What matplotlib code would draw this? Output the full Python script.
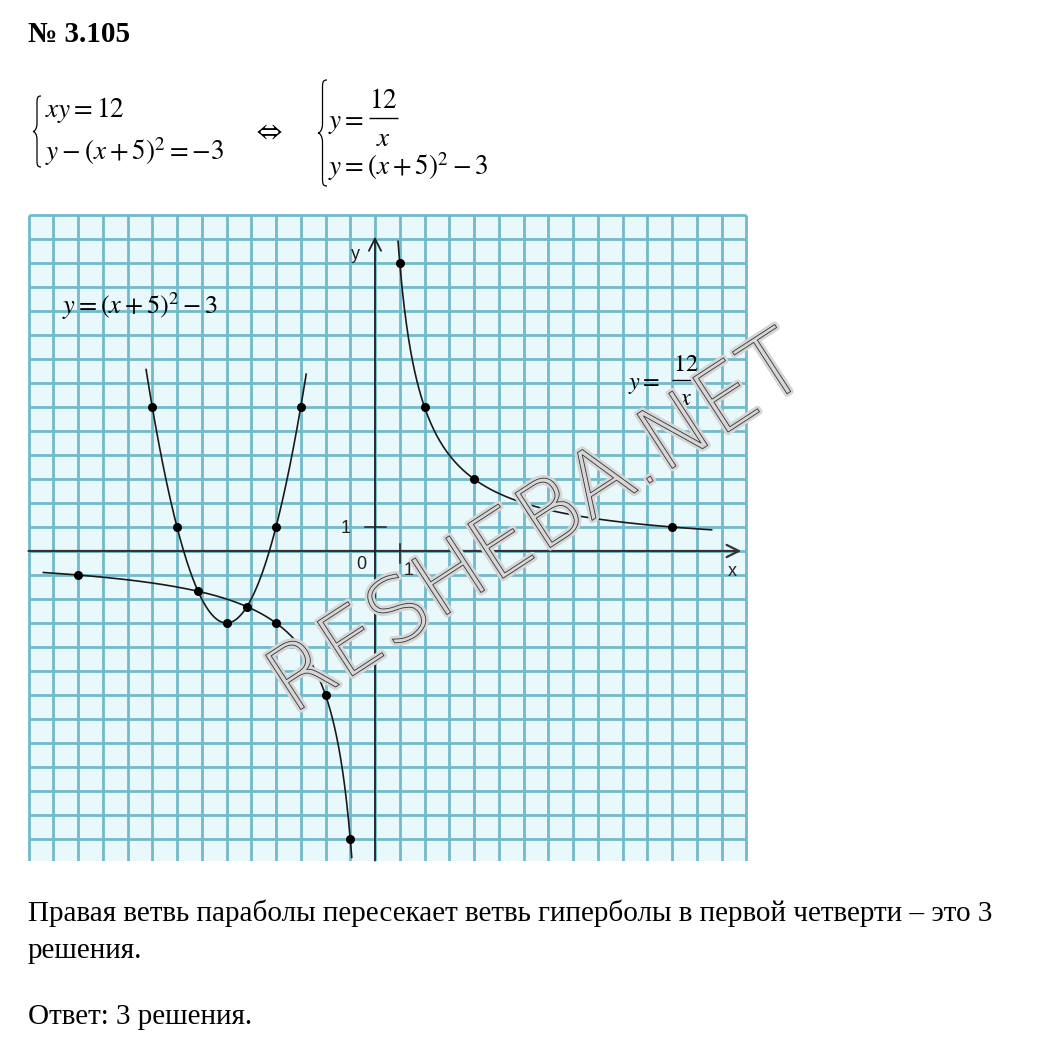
import numpy as np
import matplotlib
matplotlib.use('Agg')
import matplotlib.pyplot as plt
import matplotlib.patheffects as pe
from matplotlib import font_manager as fm
from matplotlib.path import Path
from matplotlib.patches import PathPatch, Rectangle
from matplotlib.transforms import Affine2D

plt.rcParams['mathtext.fontset'] = 'stix'

W, H = 1059, 1047

# values
hyp_k = 12                      # y = k / x
par_h, par_c = -6, -3           # vertex of the parabola as it is drawn
hyp_pos_x = [1, 2, 4, 6, 12]
hyp_pos_y = [12, 6, 3, 2, 1]
hyp_neg_x = [-12, -4, -3, -2, -1]
hyp_neg_y = [-1, -3, -4, -6, -12]
par_x = [-9, -8, -6, -4, -3]
par_y = [6, 1, -3, 1, 6]
cross_x = [-7.15, -5.18]
cross_y = [-1.68, -2.32]

hyp_pos_range = (0.93, 13.6)
hyp_neg_range = (-13.4, -0.94)
par_range = (-9.25, -2.78)

grid_x = list(range(-14, 16))
grid_y = list(range(-12, 15))

title = '№ 3.105'
text_lines = ['Правая ветвь параболы пересекает ветвь гиперболы в первой четверти – это 3',
              'решения.',
              'Ответ: 3 решения.']


def thin_font():
    # thinnest upright installed face among a few sans families
    best = None
    fams = ['Liberation Sans Narrow', 'Roboto', 'Noto Sans', 'Open Sans', 'Lato',
            'Liberation Sans', 'DejaVu Sans']
    for pref, fam in enumerate(fams):
        for f in fm.fontManager.ttflist:
            if f.name != fam or f.style != 'normal':
                continue
            w = f.weight if isinstance(f.weight, int) else fm.weight_dict.get(f.weight, 400)
            key = (w, pref)
            if best is None or key < best[0]:
                best = (key, f.fname)
    return fm.FontProperties(fname=best[1])


fig = plt.figure(figsize=(W / 100, H / 100), dpi=100)
fig.patch.set_facecolor('white')

# pixel (from top-left) -> figure
px = Affine2D().scale(1 / W, -1 / H).translate(0, 1) + fig.transFigure


def ftext(x, y, s, **kw):
    return fig.text(x / W, 1 - y / H, s, **kw)


def fline(xa, xb, y, lw=1.0):
    fig.add_artist(PathPatch(Path([(xa, y), (xb, y)]), transform=px, lw=lw,
                             edgecolor='black', fill=False, zorder=4))


def brace(xr, y0, y1, w):
    ym = (y0 + y1) / 2
    xm = xr - w / 2
    xt = xr - w
    verts = [(xr, y0), (xm, y0), (xm, y0 + w * 0.3), (xm, y0 + w),
             (xm, ym - w),
             (xm, ym - w * 0.35), (xt + w * 0.2, ym), (xt, ym),
             (xt + w * 0.2, ym), (xm, ym + w * 0.35), (xm, ym + w),
             (xm, y1 - w),
             (xm, y1 - w * 0.3), (xm, y1), (xr, y1)]
    codes = [Path.MOVETO, Path.CURVE4, Path.CURVE4, Path.CURVE4,
             Path.LINETO,
             Path.CURVE4, Path.CURVE4, Path.CURVE4,
             Path.CURVE4, Path.CURVE4, Path.CURVE4,
             Path.LINETO,
             Path.CURVE4, Path.CURVE4, Path.CURVE4]
    fig.add_artist(PathPatch(Path(verts, codes), transform=px, fill=False,
                             lw=0.9, edgecolor='black'))


def frac_eq(x, y, num, den, fs, off, bar_w):
    # "y =" followed by a built-up fraction; y is the baseline of "y ="
    ftext(x, y, r'$y=$', fontsize=fs, va='baseline', zorder=4)
    xb = x + off
    ybar = y - fs * 0.5
    fline(xb, xb + bar_w, ybar, lw=1.0)
    ftext(xb + bar_w / 2, ybar - fs * 0.55, num, fontsize=fs, ha='center',
          va='baseline', zorder=4)
    ftext(xb + bar_w / 2, ybar + fs * 1.4, den, fontsize=fs, ha='center',
          va='baseline', zorder=4)


# header
ftext(28, 42, title, fontsize=21, fontweight='bold', family='Liberation Serif',
      va='baseline')
fs = 19.5
brace(41, 96, 167, 8)
ftext(45, 117, r'$xy=12$', fontsize=fs, va='baseline')
ftext(45, 160, r'$y-(x+5)^2=-3$', fontsize=fs, va='baseline')
ftext(268, 132, r'$\Leftrightarrow$', fontsize=fs, ha='center', va='center')
brace(327, 80, 186, 9)
frac_eq(328, 128, r'$12$', r'$x$', fs, 41, 29)
ftext(328, 175, r'$y=(x+5)^2-3$', fontsize=fs, va='baseline')

# graph
x0, x1, y0, y1 = -14.2, 15.2, -12.9, 14.2
ux, uy, ox, oy = 24.75, 24.0, 375, 551
left = ox + x0 * ux
right = ox + x1 * ux
top = oy - y1 * uy
bottom = oy - y0 * uy
ax = fig.add_axes([left / W, 1 - bottom / H, (right - left) / W, (bottom - top) / H])
ax.set_xlim(x0, x1)
ax.set_ylim(y0, y1)
ax.axis('off')

ax.add_patch(Rectangle((grid_x[0], y0), grid_x[-1] - grid_x[0], grid_y[-1] - y0,
                       facecolor='#e8f8fb', edgecolor='none', zorder=0))
ax.vlines(grid_x, y0, grid_y[-1], color='#72bacb', lw=2.0, zorder=1)
ax.hlines(grid_y, grid_x[0], grid_x[-1], color='#72bacb', lw=2.0, zorder=1)

# axes with arrows
ax.annotate('', xy=(14.8, 0), xytext=(grid_x[0], 0),
            arrowprops=dict(arrowstyle='->', lw=1.6, color='#333333',
                            mutation_scale=22, shrinkA=0, shrinkB=0), zorder=3)
ax.annotate('', xy=(0, 13.1), xytext=(0, y0),
            arrowprops=dict(arrowstyle='->', lw=1.3, color='#222222',
                            mutation_scale=22, shrinkA=0, shrinkB=0), zorder=3)
ax.plot([-0.4, 0.45], [1, 1], color='#222222', lw=1.1, zorder=3)
ax.plot([1, 1], [0.3, -0.5], color='#222222', lw=1.1, zorder=3)
lab = dict(fontsize=13, family='Liberation Sans', color='#222222', ha='center',
           va='center', zorder=4)
ax.text(-1.2, 0.95, '1', **lab)
ax.text(-0.55, -0.55, '0', **lab)
ax.text(1.35, -0.8, '1', **lab)
ax.text(-0.8, 12.35, 'y', **lab)
ax.text(14.45, -0.85, 'x', **lab)

# curves
xs = np.linspace(*hyp_pos_range, 300)
ax.plot(xs, hyp_k / xs, color='#1a1a1a', lw=1.2, zorder=4)
xs = np.linspace(*hyp_neg_range, 300)
ax.plot(xs, hyp_k / xs, color='#1a1a1a', lw=1.2, zorder=4)
xs = np.linspace(*par_range, 300)
ax.plot(xs, (xs - par_h) ** 2 + par_c, color='#1a1a1a', lw=1.2, zorder=4)

mk = dict(ls='none', marker='o', ms=5.5, color='black', zorder=5)
ax.plot(hyp_pos_x, hyp_pos_y, **mk)
ax.plot(hyp_neg_x, hyp_neg_y, **mk)
ax.plot(par_x, par_y, **mk)
ax.plot(cross_x, cross_y, **mk)

ax.text(-12.65, 9.9, r'$y=(x+5)^2-3$', fontsize=19, va='baseline', zorder=4)
frac_eq(628, 389, r'$12$', r'$x$', 17.5, 44, 28)

# watermark: light grey letters with a thin dark contour
wm = thin_font()
wm.set_size(64)
ftext(538, 526, 'RESHEBA.NET', fontproperties=wm,
      rotation=33, rotation_mode='anchor', ha='center', va='center',
      color='#d6d6d6', zorder=10,
      path_effects=[pe.Stroke(linewidth=4.5, foreground='#d6d6d6'),
                    pe.Stroke(linewidth=0.6, foreground='#333333')])

# answer text
tk = dict(fontsize=21, family='Liberation Serif', va='baseline')
ftext(28, 921, text_lines[0], **tk)
ftext(28, 958, text_lines[1], **tk)
ftext(28, 1024, text_lines[2], **tk)

fig.savefig('out.png', dpi=100)
